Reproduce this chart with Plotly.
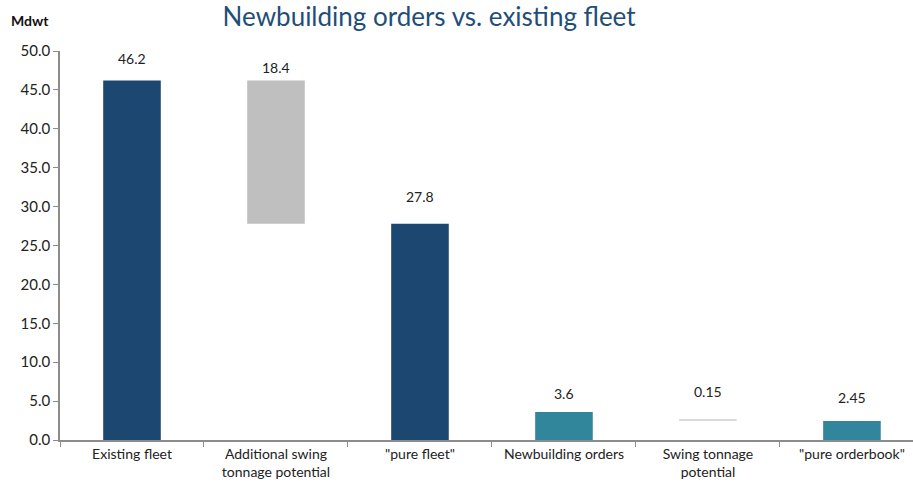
import plotly.graph_objects as go

# Categories and values (Mdwt)
categories = ["Existing fleet", "Additional swing<br>tonnage potential", "\"pure fleet\"",
              "Newbuilding orders", "Swing tonnage<br>potential", "\"pure orderbook\""]
values = [46.2, 18.4, 27.8, 3.6, 0.15, 2.45]
labels = ["46.2", "18.4", "27.8", "3.6", "0.15", "2.45"]
# floating bars start at the "pure" level they sit on
bases = [0, 27.8, 0, 0, 2.45, 0]
colors = ["#1B4770", "#BFBFBF", "#1B4770", "#31869B", "#D9D9D9", "#31869B"]
label_shift = [22, 13, 27, 18, 28, 23]

y_ticks = [0, 5, 10, 15, 20, 25, 30, 35, 40, 45, 50]

FONT = "Lato, Carlito, sans-serif"

fig = go.Figure()
fig.add_trace(go.Bar(
    x=categories, y=values, base=bases,
    marker=dict(color=colors, line=dict(width=0)),
    width=0.4, hoverinfo="skip", showlegend=False,
))

for c, v, b, t, s in zip(categories, values, bases, labels, label_shift):
    fig.add_annotation(x=c, y=v + b, text=t, showarrow=False, yshift=s,
                       font=dict(family=FONT, size=14, color="#222222"))

fig.add_annotation(xref="paper", yref="paper", x=-0.06, y=1.105, xanchor="left",
                   text="<b>Mdwt</b>", showarrow=False,
                   font=dict(family=FONT, size=14, color="#111111"))

fig.update_layout(
    width=913, height=489,
    margin=dict(l=60, r=0, t=51, b=49),
    paper_bgcolor="white", plot_bgcolor="white",
    title=dict(text="Newbuilding orders vs. existing fleet", x=0.47, xanchor="center",
               y=0.965, yanchor="middle",
               font=dict(family=FONT, size=26, color="#1F4E79")),
    xaxis=dict(range=[-0.5, 5.424], showline=True, linecolor="#8C8C8C", linewidth=1.5,
               ticks="outside", tickson="boundaries", ticklen=5, tickcolor="#8C8C8C",
               tickfont=dict(family=FONT, size=14, color="#222222"),
               showgrid=False, fixedrange=True),
    yaxis=dict(range=[0, 50], tickvals=y_ticks, ticktext=[f"{v:.1f}" for v in y_ticks],
               showline=True, linecolor="#8C8C8C", linewidth=1.5, ticks="outside",
               ticklen=5, tickcolor="#8C8C8C", showgrid=False, zeroline=False,
               tickfont=dict(family=FONT, size=15, color="#222222")),
)

fig.write_html("out.html")
